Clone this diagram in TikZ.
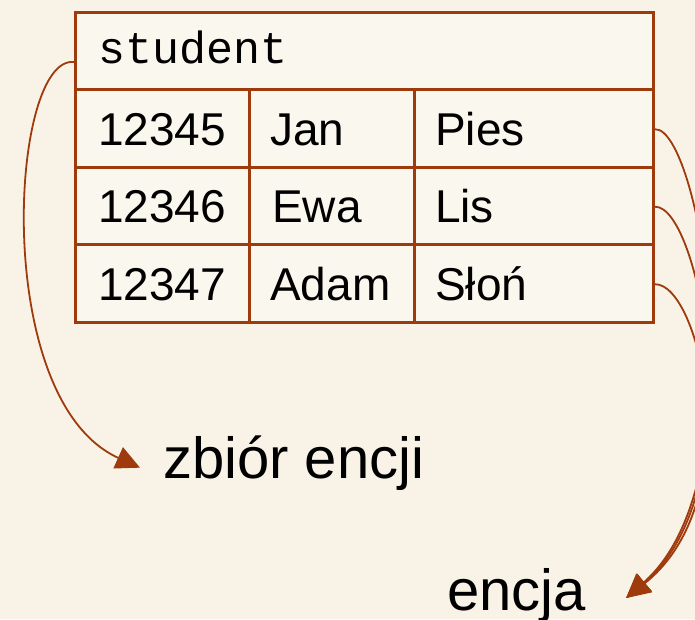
\documentclass[tikz,border=0pt]{standalone}
\usepackage{fontspec}
\setmainfont{Liberation Sans}
\newfontfamily\monofam{Liberation Mono}
\usetikzlibrary{arrows.meta}
\definecolor{bgc}{HTML}{F8F3E6}
\definecolor{cellc}{HTML}{FAF7EE}
\definecolor{rust}{HTML}{9E3A0C}
\tikzset{
  cell/.style={draw=rust, line width=3pt, fill=cellc, inner sep=0pt, anchor=north west},
  txt/.style={inner sep=0pt, anchor=base west, font=\fontsize{46}{50}\selectfont},
  lbl/.style={inner sep=0pt, anchor=base west, font=\fontsize{58}{62}\selectfont},
  arr/.style={draw=rust, line width=1.8pt, -{Triangle[length=24pt,width=23pt]}}
}
\begin{document}
\begin{tikzpicture}[x=1pt,y=-1pt]
\fill[bgc] (0,0) rectangle (695,619);
\useasboundingbox (0,0) rectangle (695,619);
\clip (0,0) rectangle (695,619);
% table
\node[cell, minimum width=578pt, minimum height=77pt] (hdr) at (74,11) {};
\node[cell, minimum width=174pt, minimum height=77.5pt] (r1c1) at (74,88) {};
\node[cell, minimum width=165pt, minimum height=77.5pt] (r1c2) at (248,88) {};
\node[cell, minimum width=239pt, minimum height=77.5pt] (r1c3) at (413,88) {};
\node[cell, minimum width=174pt, minimum height=77.5pt] (r2c1) at (74,165.5) {};
\node[cell, minimum width=165pt, minimum height=77.5pt] (r2c2) at (248,165.5) {};
\node[cell, minimum width=239pt, minimum height=77.5pt] (r2c3) at (413,165.5) {};
\node[cell, minimum width=174pt, minimum height=77.5pt] (r3c1) at (74,243) {};
\node[cell, minimum width=165pt, minimum height=77.5pt] (r3c2) at (248,243) {};
\node[cell, minimum width=239pt, minimum height=77.5pt] (r3c3) at (413,243) {};
% texts
\node[txt, font=\monofam\fontsize{45}{50}\selectfont] (tstudent) at (98,63) {student};
\node[txt] (t11) at (98,145) {12345};
\node[txt] (t12) at (270,145) {Jan};
\node[txt] (t13) at (435,145) {Pies};
\node[txt] (t21) at (98,222) {12346};
\node[txt] (t22) at (272,222) {Ewa};
\node[txt] (t23) at (435,222) {Lis};
\node[txt] (t31) at (98,300) {12347};
\node[txt] (t32) at (270,300) {Adam};
\node[txt] (t33) at (435,300) {Słoń};
% labels
\node[lbl] (zb) at (163,478) {zbiór encji};
\node[lbl] (en) at (447,610) {encja};
% arrows
\draw[arr] ([yshift=-11pt]hdr.west) .. controls (10,55) and (-10,400) .. ([xshift=-23pt,yshift=-5pt]zb.west);
\draw[arr] ([yshift=-1pt]r1c3.east) .. controls (700,127) and (760,480) .. ([xshift=40pt,yshift=-3pt]en.east);
\draw[arr] ([yshift=-1pt]r2c3.east) .. controls (700,205) and (755,490) .. ([xshift=40pt,yshift=-3pt]en.east);
\draw[arr] ([yshift=-1pt]r3c3.east) .. controls (700,283) and (750,500) .. ([xshift=40pt,yshift=-3pt]en.east);
\end{tikzpicture}
\end{document}
